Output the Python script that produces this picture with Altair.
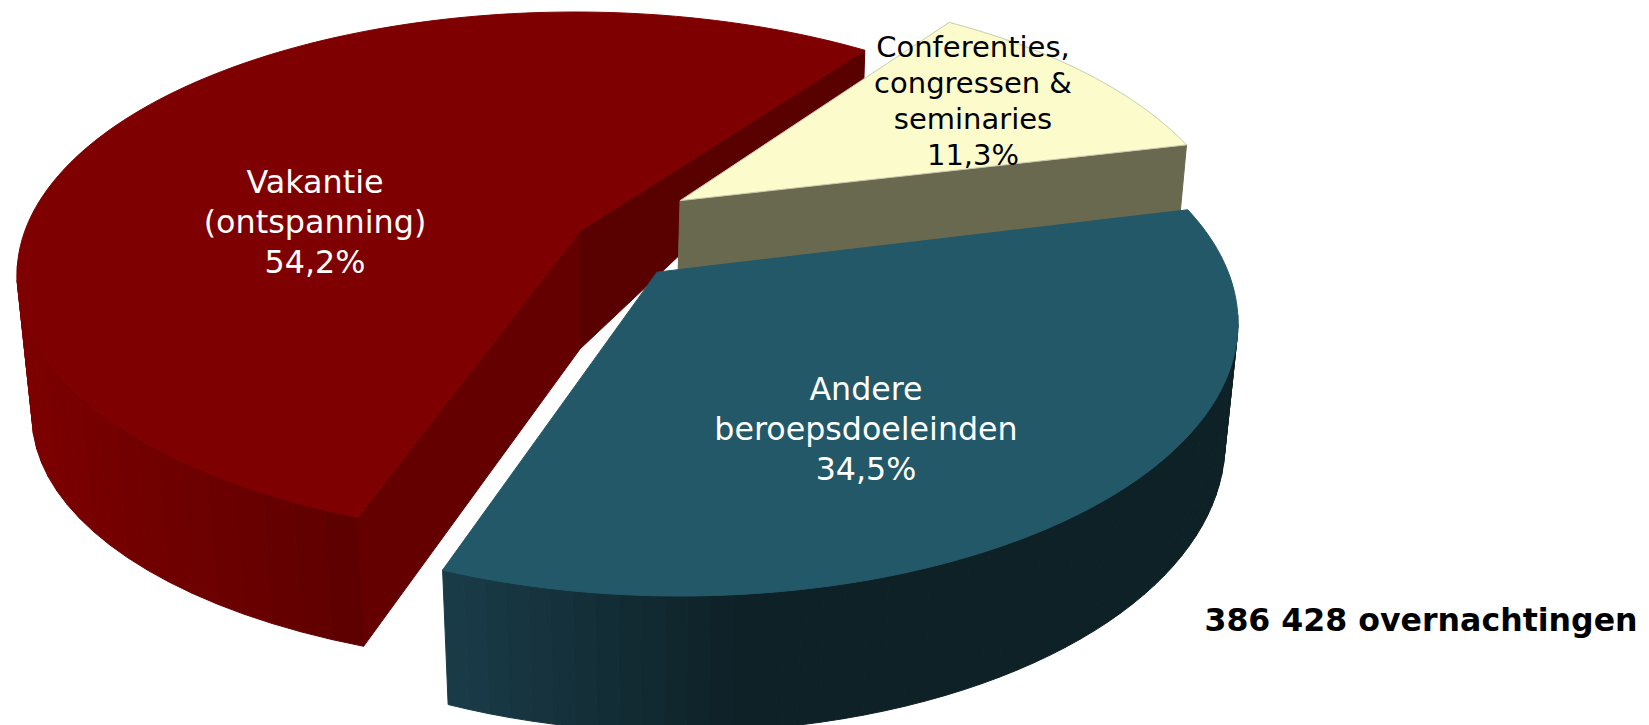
import math
import altair as alt
import pandas as pd

# ---- values ----
categories = ["Conferenties, congressen & seminaries", "Andere beroepsdoeleinden", "Vakantie (ontspanning)"]
shares = [11.3, 34.5, 54.2]
label_lines = [
    ["Conferenties,", "congressen &", "seminaries", "11,3%"],
    ["Andere", "beroepsdoeleinden", "34,5%"],
    ["Vakantie", "(ontspanning)", "54,2%"],
]
total_label = "386 428 overnachtingen"

# ---- 3D view of the exploded disc ----
START = 54.3       # pie angle where the clockwise sweep starts
E = 0.19           # perspective shift of the disc centre
PAD = 8
top_disc = [(678, 254, 558, 265), (680, 323, 558, 273), (575, 275, 558, 263)]
bottom_disc = [None, (680, 443, 545, 289), (575, 416, 543, 250)]
apex_shift = [(2, -3), (-23, 1), (5, 6)]
edge_nudge = [(0.8, 0.3), (0.5, -0.3), (1.6, -1.8)]
top_fill = ["#FBFBCC", "#225868", "#7F0000"]


def disc(theta):
    t = math.radians(theta)
    d = 1 + E * math.sin(t)
    return math.cos(t) * math.sqrt(1 - E * E) / d, (math.sin(t) + E) / d


def place(el, uv):
    return [el[0] + el[2] * uv[0], el[1] - el[3] * uv[1]]


def mix(a, b, f):
    f = max(0.0, min(1.0, f))
    ca = [int(a[i:i + 2], 16) for i in (1, 3, 5)]
    cb = [int(b[i:i + 2], 16) for i in (1, 3, 5)]
    return "#%02x%02x%02x" % tuple(round(x + (y - x) * f) for x, y in zip(ca, cb))


def feature(points, fill, stroke=None, sw=1.0):
    ring = [list(p) for p in points] + [list(points[0])]
    return {"type": "Feature",
            "geometry": {"type": "Polygon", "coordinates": [ring]},
            "properties": {"fill": fill, "stroke": stroke or fill, "sw": sw}}


# pie-angle ranges
ranges = []
a = START
for s, nudge in zip(shares, edge_nudge):
    ranges.append((a + nudge[0], a - s * 3.6 + nudge[1]))
    a -= s * 3.6


def rim(i, n=120):
    a0, a1 = ranges[i]
    return [place(top_disc[i], disc(a0 + (a1 - a0) * k / n)) for k in range(n + 1)]


def apex(i):
    el, sh = top_disc[i], apex_shift[i]
    p = place(el, (0, E))
    return [p[0] + sh[0], p[1] + sh[1]]


def side_strips(i, shade, n):
    out = []
    a0, a1 = ranges[i]
    for k in range(n):
        t0 = a0 + (a1 - a0) * k / n
        t1 = a0 + (a1 - a0) * (k + 1) / n
        if (math.sin(math.radians(t0)) + E) > 0 and (math.sin(math.radians(t1)) + E) > 0:
            continue
        uv0, uv1 = disc(t0), disc(t1)
        out.append(feature([place(top_disc[i], uv0), place(top_disc[i], uv1),
                            place(bottom_disc[i], uv1), place(bottom_disc[i], uv0)],
                           shade((uv0[0] + uv1[0]) / 2)))
    return out


features = []
# Vakantie: inner walls, outer wall, top
red_rim = rim(2)
ra = apex(2)
ra_low = [ra[0], ra[1] + 118]
red_right = red_rim[-1]
red_left = red_rim[0]
red_left_low = place(bottom_disc[2], disc(ranges[2][0]))
features.append(feature([ra, ra_low, [red_right[0] - 1, red_right[1] + 31], red_right], "#590000"))
features.append(feature([red_left, red_left_low, ra_low, ra], "#640000"))
features += side_strips(2, lambda u: mix("#7D0000", "#5E0000", (u + 1) / 0.6), 64)
features.append(feature([ra] + red_rim, top_fill[2]))
# Conferenties: cut wall, top
yr = rim(0)
ya = apex(0)
features.append(feature([ya, yr[-1], [yr[-1][0] - 7, yr[-1][1] + 75], [ya[0] - 2, ya[1] + 75]], "#69694F"))
features.append(feature([ya] + yr, top_fill[0], "#C9C9B0", 1))
# Andere: outer wall, top
features += side_strips(1, lambda u: mix("#0E2127", "#193B47", (0.1 - u) / 0.5), 64)
ba = apex(1)
features.append(feature([ba] + rim(1), top_fill[1]))

geo = alt.InlineData(values={"type": "FeatureCollection", "features": features},
                     format=alt.DataFormat(property="features", type="json"))
projection = dict(type="identity", scale=1, translate=[-PAD, -PAD])

shapes = (
    alt.Chart(geo)
    .mark_geoshape()
    .encode(
        fill=alt.Fill("properties.fill:N", scale=None),
        stroke=alt.Stroke("properties.stroke:N", scale=None),
        strokeWidth=alt.StrokeWidth("properties.sw:Q", scale=None),
    )
    .project(**projection)
)

anchors = [(973, 48, 36, "#000000", 29), (866, 390, 40, "#FFFFFF", 31.7), (315, 183, 40, "#FFFFFF", 31.8)]
rows = []
for lines, (x, y, step, col, size) in zip(label_lines, anchors):
    for j, line in enumerate(lines):
        rows.append({"x": x, "y": y + j * step, "t": line, "c": col, "s": size, "w": "normal"})
rows.append({"x": 1421, "y": 622, "t": total_label, "c": "#000000", "s": 31.6, "w": "bold"})
df = pd.DataFrame(rows)


def text_layer(d, weight):
    return (
        alt.Chart(d)
        .mark_text(font="DejaVu Sans", align="center", baseline="middle", fontWeight=weight)
        .encode(
            longitude="x:Q",
            latitude="y:Q",
            text="t:N",
            color=alt.Color("c:N", scale=None),
            size=alt.Size("s:Q", scale=None),
        )
        .project(**projection)
    )


chart = (
    alt.layer(shapes, text_layer(df[df.w == "normal"], "normal"), text_layer(df[df.w == "bold"], "bold"))
    .properties(width=1633, height=717, padding=0, background="#FFFFFF",
                autosize=alt.AutoSizeParams(type="none"))
    .configure_view(stroke=None)
)

chart.save("out.html", embed_options={"renderer": "svg", "actions": False})
